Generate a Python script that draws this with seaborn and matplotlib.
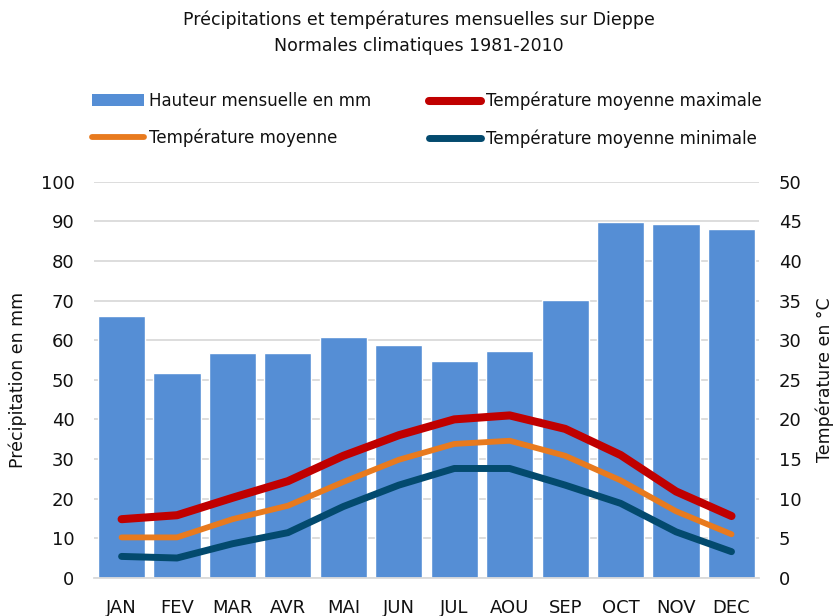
import matplotlib
matplotlib.use("Agg")
import matplotlib.pyplot as plt
import numpy as np
import seaborn as sns
from matplotlib.lines import Line2D
from matplotlib.patches import Patch

# ── Data (Dieppe, normales 1981-2010) ────────────────────────────────────────
months = ["JAN", "FEV", "MAR", "AVR", "MAI", "JUN",
          "JUL", "AOU", "SEP", "OCT", "NOV", "DEC"]
precip_mm = [66.0, 51.7, 56.8, 56.7, 60.8, 58.7,
             54.8, 57.2, 70.1, 89.9, 89.4, 88.0]
t_max = [7.4, 7.9, 10.1, 12.2, 15.4, 18.0,
         20.0, 20.5, 18.8, 15.5, 10.9, 7.8]
t_moy = [5.1, 5.1, 7.4, 9.1, 12.1, 14.9,
         16.9, 17.3, 15.4, 12.3, 8.4, 5.5]
t_min = [2.7, 2.5, 4.3, 5.7, 9.0, 11.7,
         13.8, 13.8, 11.7, 9.4, 5.8, 3.3]

BAR_COLOR = "#558ED5"
RED = "#C00000"
ORANGE = "#E87A1E"
NAVY = "#034A6E"
GRID = "#DADADA"
INK = "#111111"

sns.set_theme(style="white")
plt.rcParams["font.family"] = ["DejaVu Sans"]
plt.rcParams["text.color"] = INK

fig, ax = plt.subplots(figsize=(8.38, 6.16), dpi=100)
fig.subplots_adjust(left=0.112, right=0.906, bottom=0.062, top=0.705)

# ── Bars: précipitations ─────────────────────────────────────────────────────
sns.barplot(x=months, y=precip_mm, color=BAR_COLOR, width=0.85,
            saturation=1, ax=ax, zorder=2)
ax.set_xlim(-0.5, 11.5)
ax.set_ylim(0, 100)
ax.set_yticks(range(0, 101, 10))
ax.yaxis.grid(True, color=GRID, linewidth=1.3, zorder=0)
ax.set_axisbelow(True)
for s in ["top", "right", "left"]:
    ax.spines[s].set_visible(False)
ax.spines["bottom"].set_color(GRID)
ax.spines["bottom"].set_linewidth(1.3)
ax.tick_params(axis="both", length=0, labelsize=13, labelcolor=INK)
ax.tick_params(axis="y", pad=14)
ax.tick_params(axis="x", pad=15)
ax.set_ylabel("Précipitation en mm", fontsize=12.5, color=INK)
ax.yaxis.set_label_coords(-0.101, 0.5)
ax.set_xlabel("")

# ── Lines: températures ──────────────────────────────────────────────────────
ax2 = ax.twinx()
x = np.arange(len(months))
sns.lineplot(x=x, y=t_max, color=RED, linewidth=5.8, ax=ax2,
             solid_capstyle="round", solid_joinstyle="round")
sns.lineplot(x=x, y=t_moy, color=ORANGE, linewidth=4.2, ax=ax2,
             solid_capstyle="round", solid_joinstyle="round")
sns.lineplot(x=x, y=t_min, color=NAVY, linewidth=5.0, ax=ax2,
             solid_capstyle="round", solid_joinstyle="round")
ax2.set_ylim(0, 50)
ax2.set_yticks(range(0, 51, 5))
ax2.grid(False)
for s in ax2.spines.values():
    s.set_visible(False)
ax2.tick_params(axis="y", length=0, labelsize=13, pad=14, labelcolor=INK)
ax2.set_ylabel("Température en °C", fontsize=12.5, color=INK)
ax2.yaxis.set_label_coords(1.085, 0.5)

# ── Title ────────────────────────────────────────────────────────────────────
fig.text(0.5, 1 - 20 / 616, "Précipitations et températures mensuelles sur Dieppe",
         ha="center", va="center", fontsize=12.5)
fig.text(0.5, 1 - 46 / 616, "Normales climatiques 1981-2010",
         ha="center", va="center", fontsize=12.5)

# ── Legend (two columns placed separately) ───────────────────────────────────
col1 = [Patch(facecolor=BAR_COLOR, edgecolor="none"),
        Line2D([], [], color=ORANGE, linewidth=4.2, solid_capstyle="round")]
col2 = [Line2D([], [], color=RED, linewidth=5.8, solid_capstyle="round"),
        Line2D([], [], color=NAVY, linewidth=5.0, solid_capstyle="round")]
leg_kw = dict(frameon=False, fontsize=12, loc="upper left", handlelength=3.1,
              handleheight=0.75, handletextpad=0.3, labelspacing=1.12,
              borderpad=0, borderaxespad=0)
fig.legend(col1, ["Hauteur mensuelle en mm", "Température moyenne"],
           bbox_to_anchor=(92 / 838, 1 - 92 / 616), **leg_kw)
fig.legend(col2, ["Température moyenne maximale", "Température moyenne minimale"],
           bbox_to_anchor=(429 / 838, 1 - 92 / 616), **leg_kw)

fig.savefig("out.png", dpi=100)
plt.close(fig)
